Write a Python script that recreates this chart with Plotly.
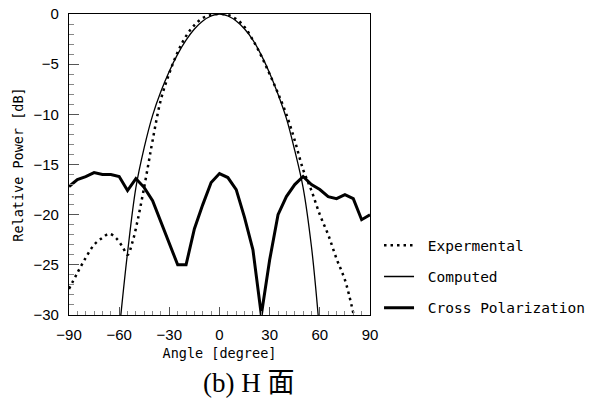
import plotly.graph_objects as go

# Experimental (dotted)
exp_angle = [-90, -85, -80, -75, -70, -66, -62, -58, -55, -52, -49, -46, -43, -40, -35, -30, -25, -20, -15, -10, -5, 0,
             5, 10, 15, 20, 25, 30, 35, 40, 45, 50, 55, 60, 65, 70, 75, 80]
exp_db = [-27.4, -25.8, -24.3, -23.0, -22.3, -21.9, -22.3, -23.2, -24.0, -22.7, -20.6, -18.1, -15.4, -12.6, -8.5, -5.9,
          -3.8, -2.2, -1.1, -0.4, -0.1, 0.0,
          -0.1, -0.5, -1.3, -2.6, -4.2, -6.0, -7.9, -10.0, -12.6, -15.5, -17.6, -20.0, -22.0, -24.4, -26.5, -29.8]

# Computed (thin)
comp_angle = [-59, -55, -50, -45, -40, -35, -30, -25, -20, -15, -10, -5, 0, 5, 10, 15, 20, 25, 30, 35, 40, 45, 50, 55, 59]
comp_db = [-30.0, -23.8, -17.3, -13.3, -10.1, -7.7, -5.7, -4.0, -2.6, -1.5, -0.7, -0.2, 0.0, -0.2, -0.7, -1.5, -2.6,
           -4.1, -5.9, -8.0, -10.4, -13.6, -17.3, -23.2, -30.0]

# Cross polarization (thick)
cross_angle = [-90, -85, -80, -75, -70, -65, -60, -55, -50, -45, -40, -35, -30, -25, -20, -15, -10, -5, 0, 5, 10, 15,
               20, 25, 30, 35, 40, 45, 50, 55, 60, 65, 70, 75, 80, 85, 90]
cross_db = [-17.2, -16.5, -16.2, -15.8, -16.0, -16.0, -16.2, -17.6, -16.4, -17.3, -18.6, -20.7, -22.9, -25.0, -25.0,
            -21.4, -19.0, -16.8, -15.9, -16.3, -17.5, -20.3, -23.5, -30.0, -24.5, -20.0, -18.2, -17.0, -16.2, -17.0,
            -17.5, -18.2, -18.4, -18.0, -18.4, -20.5, -20.0]

x_ticks = [-90, -60, -30, 0, 30, 60, 90]
y_ticks = [0, -5, -10, -15, -20, -25, -30]

mono = "DejaVu Sans Mono"
nb = "\u00a0"

fig = go.Figure()
fig.add_trace(go.Scatter(x=exp_angle, y=exp_db, mode="lines", name=nb + "Expermental", legendgroup="a",
                         line=dict(color="black", width=2.5, dash="2.5px,4px", shape="spline")))
fig.add_trace(go.Scatter(x=comp_angle, y=comp_db, mode="lines", name=nb + "Computed", legendgroup="b",
                         line=dict(color="black", width=1.3, shape="spline")))
fig.add_trace(go.Scatter(x=cross_angle, y=cross_db, mode="lines", name=nb + "Cross Polarization", legendgroup="c",
                         line=dict(color="black", width=3)))

fig.update_xaxes(range=[-90, 90], tickvals=x_ticks, ticks="inside", ticklen=8, tickcolor="#555", tickwidth=1,
                 minor=dict(dtick=5, ticks="inside", ticklen=4, tickcolor="#888", tickwidth=1),
                 showline=True, linecolor="black", linewidth=1.3, mirror=True, showgrid=False, zeroline=False,
                 ticklabelstandoff=6,
                 tickfont=dict(family="Liberation Sans", size=15, color="black"),
                 title=dict(text="Angle [degree]", font=dict(family=mono, size=13.5, color="black"), standoff=6))
fig.update_yaxes(range=[-30, 0], tickvals=y_ticks, ticks="inside", ticklen=10, tickcolor="#555", tickwidth=1,
                 minor=dict(dtick=1, ticks="inside", ticklen=5, tickcolor="#888", tickwidth=1),
                 showline=True, linecolor="black", linewidth=1.3, mirror=True, showgrid=False, zeroline=False,
                 ticklabelstandoff=6,
                 tickfont=dict(family="Liberation Sans", size=15, color="black"),
                 title=dict(text="Relative Power [dB]", font=dict(family=mono, size=13.5, color="black"), standoff=6))

fig.add_annotation(text="(b) H 面", xref="paper", yref="paper", x=0.595, y=-0.226, showarrow=False,
                   xanchor="center", yanchor="middle",
                   font=dict(family="Liberation Serif, Noto Sans CJK SC", size=27, color="black"))

fig.update_layout(width=592, height=398, margin=dict(l=69, r=222, t=14, b=83, autoexpand=False),
                  paper_bgcolor="white", plot_bgcolor="white",
                  legend=dict(x=1.03, y=0.285, xanchor="left", yanchor="top", tracegroupgap=9.5,
                              font=dict(family=mono, size=14.5, color="black"), bgcolor="rgba(0,0,0,0)"))

fig.write_html("out.html")
